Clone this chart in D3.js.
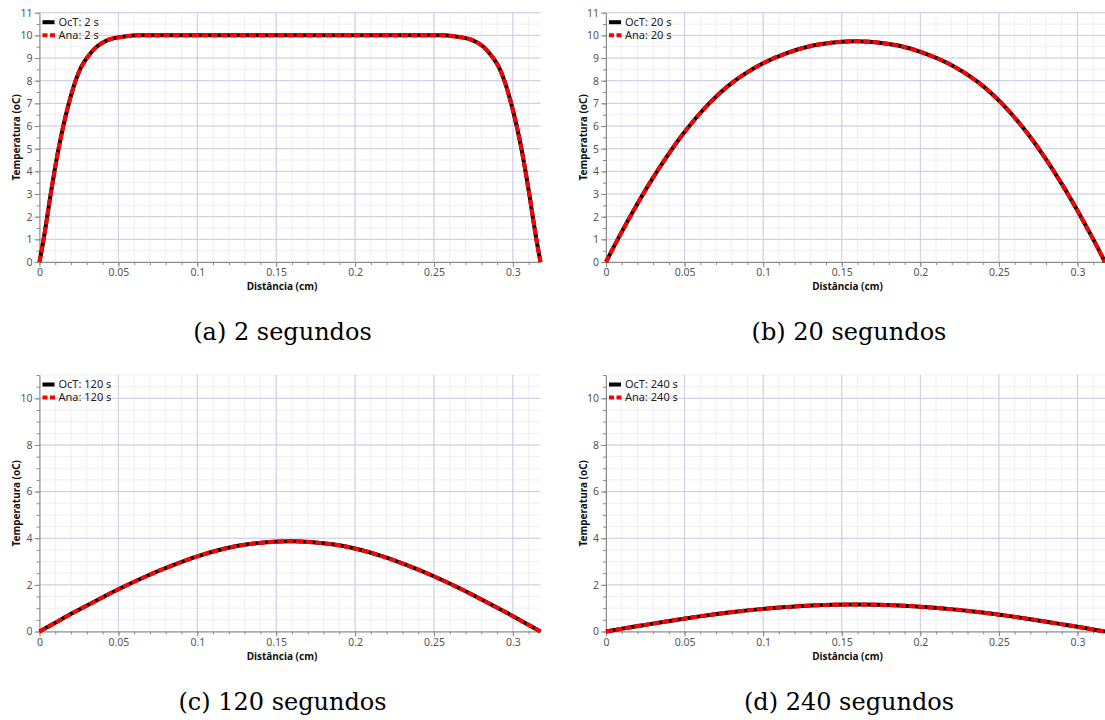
<!DOCTYPE html>
<html>
<head>
<meta charset="utf-8">
<script src="https://cdn.jsdelivr.net/npm/d3@7"></script>
<style>
  body { margin: 0; background: #fff; }
  svg { display: block; }
</style>
</head>
<body>
<svg id="chart" width="1105" height="720"></svg>
<script>
// bar length (cm)
const barLength = 0.3175;

// values: distance (cm) and temperature (oC)
const distA = [0, 0.0026, 0.0049, 0.0071, 0.0095, 0.0121, 0.0151, 0.0186, 0.0229, 0.0264, 0.03, 0.0362, 0.0435, 0.049, 0.055, 0.062,
  0.08, 0.12, 0.16, 0.2, 0.2375,
  0.2555, 0.2625, 0.2685, 0.274, 0.2813, 0.2875, 0.2911, 0.2946, 0.2989, 0.3024, 0.3054, 0.308, 0.3104, 0.3126, 0.3149, 0.3175];
const tempA = [0, 1, 2, 3, 4, 5, 6, 7, 8, 8.6, 9, 9.5, 9.8, 9.9, 9.96, 10,
  10, 10, 10, 10, 10,
  10, 9.96, 9.9, 9.8, 9.5, 9, 8.6, 8, 7, 6, 5, 4, 3, 2, 1, 0];

const distB = [0, 0.0078, 0.0173, 0.0279, 0.0385, 0.0506, 0.066, 0.0808, 0.0999, 0.1147, 0.1316, 0.15, 0.1588,
  0.1675, 0.1859, 0.2028, 0.2176, 0.2367, 0.2515, 0.2669, 0.279, 0.2896, 0.3002, 0.3097, 0.3175];
const tempB = [0, 1.04, 2.24, 3.49, 4.63, 5.79, 7.02, 7.94, 8.77, 9.21, 9.55, 9.72, 9.74,
  9.72, 9.55, 9.21, 8.77, 7.94, 7.02, 5.79, 4.63, 3.49, 2.24, 1.04, 0];

const distC = [0, 0.0106, 0.0213, 0.0362, 0.05, 0.068, 0.083, 0.1, 0.117, 0.132, 0.1588,
  0.1855, 0.2005, 0.2175, 0.2345, 0.2495, 0.2675, 0.2813, 0.2962, 0.3069, 0.3175];
const tempC = [0, 0.4, 0.8, 1.33, 1.81, 2.38, 2.8, 3.22, 3.55, 3.74, 3.87,
  3.74, 3.55, 3.22, 2.8, 2.38, 1.81, 1.33, 0.8, 0.4, 0];

const distD = [0, 0.011, 0.0237, 0.0364, 0.0506, 0.066, 0.081, 0.0999, 0.115, 0.131, 0.1588,
  0.1865, 0.2025, 0.2176, 0.2365, 0.2515, 0.2669, 0.2811, 0.2938, 0.3065, 0.3175];
const tempD = [0, 0.126, 0.27, 0.41, 0.56, 0.71, 0.84, 0.97, 1.05, 1.12, 1.16,
  1.12, 1.05, 0.97, 0.84, 0.71, 0.56, 0.41, 0.27, 0.126, 0];

const times = ["2 s", "20 s", "120 s", "240 s"];
const captions = ["(a) 2 segundos", "(b) 20 segundos", "(c) 120 segundos", "(d) 240 segundos"];

const xTicks = [0, 0.05, 0.1, 0.15, 0.2, 0.25, 0.3];
const xTickLabels = ["0", "0.05", "0.1", "0.15", "0.2", "0.25", "0.3"];
const yTicksFine = [0, 1, 2, 3, 4, 5, 6, 7, 8, 9, 10, 11];
const yTicksCoarse = [0, 2, 4, 6, 8, 10];

const svg = d3.select("#chart");
const font = "'Noto Sans', 'DejaVu Sans', sans-serif";

const panels = [
  { dist: distA, temp: tempA, time: times[0], caption: captions[0], yTicks: yTicksFine, left: 39.5, top: 12.7, w: 501, h: 249.3 },
  { dist: distB, temp: tempB, time: times[1], caption: captions[1], yTicks: yTicksFine, left: 606, top: 12.7, w: 499, h: 249.3 },
  { dist: distC, temp: tempC, time: times[2], caption: captions[2], yTicks: yTicksCoarse, left: 39.5, top: 375, w: 501, h: 256.5 },
  { dist: distD, temp: tempD, time: times[3], caption: captions[3], yTicks: yTicksCoarse, left: 606, top: 375, w: 499, h: 256.5 },
];

const drawPanel = function (p) {
  const g = svg.append("g").attr("transform", `translate(${p.left},${p.top})`);

  const x = d3.scaleLinear().domain([0, barLength]).range([0, p.w]);
  const y = d3.scaleLinear().domain([0, 11]).range([p.h, 0]);

  const minorX = d3.range(0, barLength, 0.01);
  const minorY = d3.range(0, 11.01, 0.5);

  // minor grid
  g.append("g")
    .selectAll("line")
    .data(minorX)
    .join("line")
    .attr("x1", (d) => x(d))
    .attr("x2", (d) => x(d))
    .attr("y1", 0)
    .attr("y2", p.h)
    .attr("stroke", "#efeff5")
    .attr("stroke-width", 1);
  g.append("g")
    .selectAll("line")
    .data(minorY)
    .join("line")
    .attr("x1", 0)
    .attr("x2", p.w)
    .attr("y1", (d) => y(d))
    .attr("y2", (d) => y(d))
    .attr("stroke", "#efeff5")
    .attr("stroke-width", 1);

  // major grid
  g.append("g")
    .selectAll("line")
    .data(xTicks)
    .join("line")
    .attr("x1", (d) => x(d))
    .attr("x2", (d) => x(d))
    .attr("y1", 0)
    .attr("y2", p.h)
    .attr("stroke", "#cbcbe4")
    .attr("stroke-width", 1);
  g.append("g")
    .selectAll("line")
    .data(p.yTicks)
    .join("line")
    .attr("x1", 0)
    .attr("x2", p.w)
    .attr("y1", (d) => y(d))
    .attr("y2", (d) => y(d))
    .attr("stroke", "#cbcbe4")
    .attr("stroke-width", 1);

  // minor ticks
  g.append("g")
    .attr("transform", `translate(0,${p.h})`)
    .call(d3.axisBottom(x).tickValues(minorX).tickFormat("").tickSize(3).tickSizeOuter(0))
    .call((a) => a.select(".domain").remove())
    .call((a) => a.selectAll("line").attr("stroke", "#8a8a8a"));
  g.append("g")
    .call(d3.axisLeft(y).tickValues(minorY).tickFormat("").tickSize(3).tickSizeOuter(0))
    .call((a) => a.select(".domain").remove())
    .call((a) => a.selectAll("line").attr("stroke", "#8a8a8a"));

  // axes
  const xAxis = g
    .append("g")
    .attr("transform", `translate(0,${p.h})`)
    .call(
      d3.axisBottom(x)
        .tickValues(xTicks)
        .tickFormat((d, i) => xTickLabels[i])
        .tickSize(5)
        .tickSizeOuter(0)
        .tickPadding(2)
    );
  const yAxis = g.append("g").call(
    d3.axisLeft(y)
      .tickValues(p.yTicks)
      .tickFormat((d) => String(d))
      .tickSize(5)
      .tickSizeOuter(0)
      .tickPadding(2)
  );
  [xAxis, yAxis].forEach((a) => {
    a.select(".domain").attr("stroke", "#8a8a8a");
    a.selectAll(".tick line").attr("stroke", "#8a8a8a");
    a.selectAll(".tick text")
      .attr("fill", "#555")
      .style("font-family", font)
      .style("font-size", "10.5px");
  });

  // axis titles
  g.append("text")
    .attr("x", p.w / 2 - 8)
    .attr("y", p.h + 28)
    .attr("text-anchor", "middle")
    .style("font-family", font)
    .style("font-size", "10px")
    .style("font-weight", "bold")
    .attr("fill", "#111")
    .text("Distância (cm)");
  g.append("text")
    .attr("transform", "rotate(-90)")
    .attr("x", -p.h / 2)
    .attr("y", -23)
    .attr("dy", "0.35em")
    .attr("text-anchor", "middle")
    .style("font-family", font)
    .style("font-size", "10px")
    .style("font-weight", "bold")
    .attr("fill", "#111")
    .text("Temperatura (oC)");

  // lines
  const pts = p.dist.map((d, i) => [d, p.temp[i]]);
  const line = d3
    .line()
    .x((d) => x(d[0]))
    .y((d) => y(d[1]))
    .curve(d3.curveCatmullRom.alpha(0.5));

  g.append("path")
    .attr("d", line(pts))
    .attr("fill", "none")
    .attr("stroke", "#000")
    .attr("stroke-width", 4);
  g.append("path")
    .attr("d", line(pts))
    .attr("fill", "none")
    .attr("stroke", "#ff0000")
    .attr("stroke-width", 4)
    .attr("stroke-dasharray", "7,2.5");

  // legend
  const legend = g.append("g").attr("transform", "translate(3,9.5)");
  legend.append("line")
    .attr("x1", 0).attr("x2", 12).attr("y1", 0).attr("y2", 0)
    .attr("stroke", "#000").attr("stroke-width", 4);
  legend.append("line")
    .attr("x1", 0).attr("x2", 13).attr("y1", 13).attr("y2", 13)
    .attr("stroke", "#ff0000").attr("stroke-width", 4)
    .attr("stroke-dasharray", "5,2.5");
  legend.append("text")
    .attr("x", 16).attr("y", 0).attr("dy", "0.35em")
    .style("font-family", font).style("font-size", "11px")
    .attr("fill", "#222")
    .text("OcT: " + p.time);
  legend.append("text")
    .attr("x", 16).attr("y", 13).attr("dy", "0.35em")
    .style("font-family", font).style("font-size", "11px")
    .attr("fill", "#222")
    .text("Ana: " + p.time);

  // caption
  svg.append("text")
    .attr("x", p.left - 39 + 282)
    .attr("y", p.top + p.h + 78)
    .attr("text-anchor", "middle")
    .style("font-family", "'DejaVu Serif', serif")
    .style("font-size", "24px")
    .attr("fill", "#000")
    .text(p.caption);
};

panels.forEach(drawPanel);
</script>
</body>
</html>
